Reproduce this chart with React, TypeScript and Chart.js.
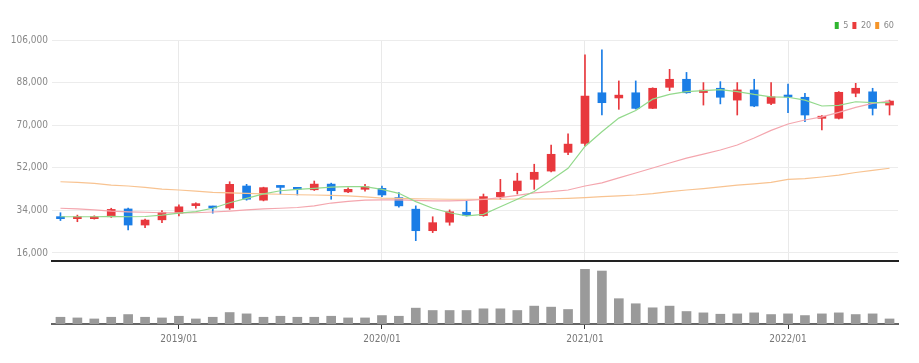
import React, { useEffect, useRef } from 'react';
import { Chart, registerables } from 'chart.js';

Chart.register(...registerables);

const months = [
  '2018/06', '2018/07', '2018/08', '2018/09', '2018/10', '2018/11', '2018/12',
  '2019/01', '2019/02', '2019/03', '2019/04', '2019/05', '2019/06', '2019/07', '2019/08', '2019/09', '2019/10', '2019/11', '2019/12',
  '2020/01', '2020/02', '2020/03', '2020/04', '2020/05', '2020/06', '2020/07', '2020/08', '2020/09', '2020/10', '2020/11', '2020/12',
  '2021/01', '2021/02', '2021/03', '2021/04', '2021/05', '2021/06', '2021/07', '2021/08', '2021/09', '2021/10', '2021/11', '2021/12',
  '2022/01', '2022/02', '2022/03', '2022/04', '2022/05', '2022/06', '2022/07',
];

const openP = [
  31000, 30500, 30500, 31300, 34600, 27800, 30000, 32800, 36000, 35600,
  35000, 44300, 38300, 44300, 43300, 42700, 45100, 41800, 42900, 43300,
  39400, 34500, 25400, 29000, 33200, 31800, 39800, 42300, 47100, 50600,
  58500, 62300, 83700, 81500, 83700, 77100, 86000, 89400, 83800, 85600,
  80600, 84900, 79200, 82700, 81800, 72900, 72900, 83500, 84100, 78500,
];
const highP = [
  33000, 32000, 31700, 34900, 35000, 30300, 33900, 36300, 37200, 35800,
  46100, 45000, 43800, 44400, 43400, 46400, 45500, 43500, 45000, 44300,
  41500, 35900, 31300, 34200, 38100, 40900, 47100, 49700, 53500, 61600,
  66300, 99700, 101800, 88700, 88700, 85800, 93600, 92300, 88000, 88400,
  88000, 89400, 88000, 87400, 83500, 74100, 84200, 87700, 85600, 80600,
];
const lowP = [
  29700, 29200, 30300, 31000, 25700, 26700, 28800, 31600, 34900, 32800,
  34400, 38300, 38000, 40900, 40500, 42400, 38700, 41500, 42100, 39800,
  35400, 21200, 24600, 27700, 31600, 31500, 38700, 40900, 42900, 50300,
  57500, 61200, 74300, 76700, 76800, 77000, 84600, 83500, 78500, 79000,
  74300, 77800, 78700, 75300, 71500, 68000, 72600, 82000, 74300, 74300,
];
const closeP = [
  30500, 30800, 31300, 34400, 27800, 29900, 33200, 35500, 36400, 35000,
  45000, 38700, 43600, 43700, 42900, 45100, 42300, 42900, 44000, 40500,
  35900, 25400, 28800, 33400, 31800, 39800, 41600, 46400, 50100, 57700,
  62000, 82300, 79500, 82700, 77100, 85600, 89400, 83700, 84800, 81800,
  84900, 78100, 82000, 81900, 74300, 73800, 83900, 85600, 77100, 80200,
];

const ma5 = [
  31300, 31300, 31300, 31500, 31300, 31400, 32000, 32800, 33500, 34900,
  37200, 39100, 41000, 42300, 42900, 43300, 43800, 44000, 44000, 42900,
  41200, 37700, 34900, 33000, 31700, 32300, 35500, 38700, 42000, 46800,
  51800, 61000, 67200, 73000, 76200, 81000, 83000, 84200, 84600, 85000,
  84200, 83000, 82000, 81800, 80600, 78100, 78400, 79900, 79500, 79500,
];
const ma20 = [
  34900, 34600, 34200, 33700, 33400, 33200, 33000, 32900, 33000, 33300,
  33700, 34200, 34600, 34900, 35200, 35900, 37100, 37800, 38300, 38400,
  38400, 38200, 38000, 38000, 38200, 38600, 39400, 40300, 41400, 41900,
  42600, 44300, 45600, 47700, 49800, 51900, 54000, 56100, 57800, 59500,
  61600, 64600, 67800, 70500, 72200, 73500, 75400, 77500, 79200, 80200,
];
const ma60 = [
  46100, 45800, 45400, 44700, 44300, 43700, 43000, 42600, 42100, 41600,
  41400, 41200, 41000, 40800, 40600, 40500, 40300, 40100, 39700, 39200,
  39100, 38900, 38800, 38700, 38700, 38700, 38700, 38800, 38800, 38900,
  39100, 39400, 39800, 40100, 40500, 41100, 41900, 42600, 43200, 43900,
  44700, 45200, 45800, 47100, 47400, 48100, 48900, 50000, 50900, 51800,
];

// monthly volume, millions of shares
const volume = [
  2.0, 1.8, 1.5, 2.0, 2.8, 2.0, 1.8, 2.3, 1.5, 2.0,
  3.4, 3.0, 2.0, 2.3, 2.0, 2.0, 2.3, 1.8, 1.8, 2.5,
  2.3, 4.7, 4.0, 4.0, 4.0, 4.5, 4.5, 4.0, 5.3, 5.0,
  4.3, 16.3, 15.7, 7.5, 6.0, 4.8, 5.3, 3.7, 3.3, 2.9,
  3.0, 3.3, 2.8, 3.0, 2.5, 3.0, 3.3, 2.8, 3.0, 1.5,
];

const priceTicks = [16000, 34000, 52000, 70000, 88000, 106000];
const maNames = ['5', '20', '60'];
const maLegendColors = ['#2fb52f', '#ea3c3c', '#f5952a'];
const maLineColors = ['#93d98c', '#f4a6ae', '#f8c391'];

const UP = '#e8383d';
const DOWN = '#1a7de6';
const FONT = "'Liberation Sans Narrow', 'DejaVu Sans Condensed', 'Roboto Condensed', sans-serif";

export default function App() {
  const mainRef = useRef<HTMLCanvasElement>(null);
  const volRef = useRef<HTMLCanvasElement>(null);

  useEffect(() => {
    const colors = openP.map((o, i) => (closeP[i] >= o ? UP : DOWN));
    const isJan = (i: number) => !!months[i] && months[i].endsWith('/01');
    const maData = [ma5, ma20, ma60];

    const main = new Chart(mainRef.current!, {
      type: 'bar',
      data: {
        labels: months,
        datasets: [
          ...maNames.map((n, k) => ({
            type: 'line' as const,
            label: n,
            data: maData[k],
            borderColor: maLineColors[k],
            backgroundColor: maLegendColors[k],
            borderWidth: 1.2,
            pointRadius: 0,
            tension: 0,
            order: 0,
          })),
          {
            type: 'bar' as const,
            label: 'wick',
            data: lowP.map((l, i) => [l, highP[i]]),
            backgroundColor: colors,
            barThickness: 1,
            grouped: false,
            order: 2,
          },
          {
            type: 'bar' as const,
            label: 'body',
            data: openP.map((o, i) => [Math.min(o, closeP[i]), Math.max(o, closeP[i])]),
            backgroundColor: colors,
            barThickness: 8,
            minBarLength: 2,
            grouped: false,
            order: 1,
          },
        ] as any,
      },
      options: {
        responsive: false,
        animation: false,
        layout: { padding: { left: 0, right: 21, top: 17, bottom: 2 } },
        plugins: {
          tooltip: { enabled: false },
          legend: {
            display: true,
            position: 'top',
            align: 'end',
            labels: {
              boxWidth: 4,
              boxHeight: 7,
              padding: 4,
              color: '#888',
              font: { size: 9, family: FONT },
              generateLabels: () =>
                maNames.map((n, k) => ({
                  text: n,
                  fillStyle: maLegendColors[k],
                  strokeStyle: 'rgba(0,0,0,0)',
                  lineWidth: 0,
                  hidden: false,
                  datasetIndex: k,
                  fontColor: '#888',
                })),
            },
          },
        },
        scales: {
          x: {
            offset: true,
            grid: {
              offset: false,
              drawTicks: false,
              color: (ctx: any) => (isJan(ctx.index) ? '#e9e9e9' : 'rgba(0,0,0,0)'),
            },
            ticks: { display: false, autoSkip: false },
            border: { display: true, color: '#222', width: 2 },
          },
          y: {
            min: 12600,
            max: 106000,
            afterBuildTicks: (s: any) => {
              s.ticks = priceTicks.map((v) => ({ value: v }));
            },
            afterFit: (s: any) => {
              s.width = 52;
            },
            grid: { color: '#ececec', drawTicks: false },
            border: { display: false },
            ticks: {
              padding: 4,
              color: '#888',
              font: { size: 10, family: FONT },
              callback: (v: any) => Number(v).toLocaleString('en-US'),
            },
          },
        },
      } as any,
    });

    const vol = new Chart(volRef.current!, {
      type: 'bar',
      data: {
        labels: months,
        datasets: [
          {
            label: 'volume',
            data: volume,
            backgroundColor: '#9a9a9a',
            barThickness: 9,
          },
        ],
      },
      options: {
        responsive: false,
        animation: false,
        layout: { padding: { left: 52, right: 21, top: 7, bottom: 14 } },
        plugins: { legend: { display: false }, tooltip: { enabled: false } },
        scales: {
          x: {
            offset: true,
            grid: {
              offset: false,
              drawOnChartArea: false,
              drawTicks: true,
              tickLength: 5,
              tickColor: (ctx: any) => (isJan(ctx.index) ? '#333' : 'rgba(0,0,0,0)'),
            },
            border: { display: true, color: '#666', width: 2 },
            ticks: {
              autoSkip: false,
              maxRotation: 0,
              minRotation: 0,
              padding: 4,
              color: '#777',
              font: { size: 10, family: FONT },
              callback: (_v: any, i: number) => (isJan(i) ? months[i] : ''),
            },
          },
          y: { display: false, min: 0, max: 16.3 },
        },
      } as any,
    });

    return () => {
      main.destroy();
      vol.destroy();
    };
  }, []);

  return (
    <div style={{ position: 'absolute', left: 0, top: 0, width: 919, height: 363, background: '#fff' }}>
      <canvas ref={mainRef} width={919} height={271} style={{ position: 'absolute', left: 0, top: 0 }} />
      <canvas ref={volRef} width={919} height={101} style={{ position: 'absolute', left: 0, top: 262 }} />
    </div>
  );
}
